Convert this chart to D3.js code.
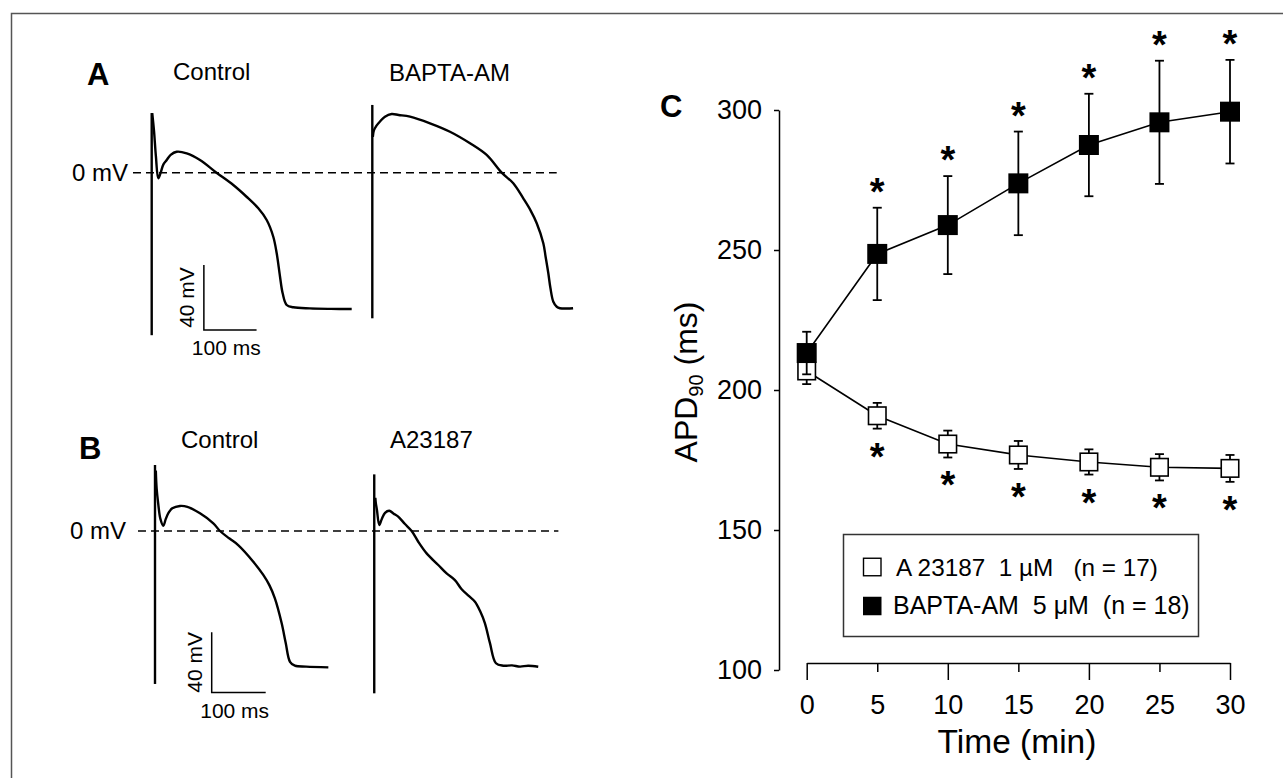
<!DOCTYPE html>
<html><head><meta charset="utf-8">
<script src="https://cdn.jsdelivr.net/npm/d3@7"></script>
<style>
body{margin:0;background:#fff}
svg{display:block}
text{font-family:"Liberation Sans",Arial,Helvetica,sans-serif;fill:#000}
</style>
</head><body>
<svg id="c" width="1283" height="778"></svg>
<script>
// ---------- Panel C data ----------
const times = [0, 5, 10, 15, 20, 25, 30];
const baptaMean = [213.2, 248.6, 258.9, 273.8, 287.5, 295.6, 299.4];
const baptaSem  = [7.6, 16.5, 17.5, 18.5, 18.3, 22.0, 18.5];
const baptaSig  = [false, true, true, true, true, true, true];
const a23Mean = [206.8, 190.8, 180.7, 176.8, 174.3, 172.4, 172.0];
const a23Sem  = [4.7, 4.6, 4.8, 5.0, 4.5, 4.7, 4.8];
const a23Sig  = [false, true, true, true, true, true, true];
const yTicks = [100, 150, 200, 250, 300];
const xTicks = [0, 5, 10, 15, 20, 25, 30];
const xMajor = [0, 10, 20, 30];
const legendLabels = ["A 23187  1 \u00B5M   (n = 17)", "BAPTA-AM  5 \u03BCM  (n = 18)"];

// ---------- Panel A / B traces: [time ms, membrane potential mV] ----------
const controlA_artifact = [[0, -100], [0, 36.7]];
const controlA = [[1, 36.7], [4.3, 26], [8, 10], [12.5, -3.4], [17, 0], [22, 5], [28.5, 7.8], [36, 11],
  [47.4, 12.9], [66.4, 11.9], [91.6, 7.8], [123, 0], [154.8, -7.6], [180, -14.8], [202.3, -21.9],
  [218.2, -29.1], [230.7, -39.4], [237.2, -49.6], [243.5, -64], [248.5, -74.2], [256.2, -81.4],
  [268.7, -82.8], [300, -83.5], [340, -83.8], [379.5, -83.9]];
const baptaA_artifact = [[0, -89.6], [0, 41.7]];
const baptaA = [[1, 22], [3, 26], [8, 29], [14.6, 31.5], [24, 34.5], [36.8, 36.1], [50, 35.5], [71.5, 34.5],
  [109.5, 30.4], [147.4, 25.2], [185.4, 18.1], [217, 10.9], [245.5, 0], [267.5, -6.5], [286.5, -15.8],
  [300, -23], [312, -31.1], [324.5, -43.4], [329, -52], [334, -61.9], [338, -71], [343.5, -79.4],
  [350, -82.5], [356, -83.4], [370, -83.6], [381, -83.4]];
const controlB_artifact = [[0, -101.3], [0, 43.7]];
const controlB = [[1.5, 40], [3, 28.3], [6, 18], [10, 8], [15.4, 3.5], [20, 8], [25, 12], [32, 15],
  [46.3, 16.6], [60, 16], [83.3, 11.7], [108, 5.1], [120.4, 0], [138, -5], [154, -9.3], [182, -20.3],
  [200.5, -29.1], [212, -36], [222, -44.6], [234.6, -61.1], [242, -74], [250, -86.6], [259, -89.2],
  [280, -89.8], [321, -90.3]];
const a23B_artifact = [[0, -107.5], [0, 37.5]];
const a23B = [[2, 22], [3, 18.3], [5, 14], [9.3, 4], [14, 8], [20, 12], [27.8, 13.4], [36, 11.5],
  [44.4, 9.5], [56.9, 4.6], [69.3, 0], [81.5, -7.1], [97, -14.8], [118.5, -22.5], [134, -28.1],
  [149.4, -32.5], [161.9, -38.6], [175, -43], [186.5, -46.8], [196, -53], [205, -61.1], [214.3, -74.3],
  [225.4, -87.6], [239, -89.2], [255, -89], [270, -89.8], [285, -89.2], [303.7, -89.9]];
const offsetA = 418.6;   // ms between the two sweeps in panel A
const offsetB = 406;     // ms between the two sweeps in panel B
const zeroLineA = [-35.5, 768.5];
const zeroLineB = [-31.5, 747];
const scaleBarA = {t: 99, v: -96.8, dt: 100, dv: 40};
const scaleBarB = {t: 105, v: -107, dt: 100, dv: 40};

const svg = d3.select("#c");

// outer frame
svg.append("rect").attr("x", 11.5).attr("y", 13.5).attr("width", 1300).attr("height", 800)
  .attr("fill", "none").attr("stroke", "#555").attr("stroke-width", 1.5);

// ---------- trace panels ----------
function tracePanel(opt) {
  const x = d3.scaleLinear().domain([0, 100]).range(opt.xr);
  const y = d3.scaleLinear().domain([0, 40]).range(opt.yr);
  const g = svg.append("g");
  g.append("line").attr("x1", x(opt.zero[0])).attr("x2", x(opt.zero[1]))
    .attr("y1", y(0)).attr("y2", y(0))
    .attr("stroke", "#000").attr("stroke-width", 1.6).attr("stroke-dasharray", "8,5");
  const lin = d3.line().x(d => x(d[0])).y(d => y(d[1]));
  const crv = d3.line().x(d => x(d[0])).y(d => y(d[1])).curve(d3.curveCatmullRom.alpha(0.5));
  opt.sweeps.forEach(s => {
    const sh = d => [d[0] + s.off, d[1]];
    g.append("path").attr("d", lin(s.art.map(sh))).attr("fill", "none")
      .attr("stroke", "#000").attr("stroke-width", 2.4);
    g.append("path").attr("d", crv(s.ap.map(sh))).attr("fill", "none")
      .attr("stroke", "#000").attr("stroke-width", 2.4).attr("stroke-linejoin", "round");
  });
  const sb = opt.bar;
  g.append("path").attr("d", lin([[sb.t, sb.v + sb.dv], [sb.t, sb.v], [sb.t + sb.dt, sb.v]]))
    .attr("fill", "none").attr("stroke", "#000").attr("stroke-width", 1.5);
  g.append("text").attr("transform", `translate(${x(sb.t) - 10},${(y(sb.v) + y(sb.v + sb.dv)) / 2}) rotate(-90)`)
    .attr("text-anchor", "middle").attr("font-size", 21).text("40 mV");
  g.append("text").attr("x", x(sb.t + sb.dt / 2) - 4).attr("y", y(sb.v) + 25)
    .attr("text-anchor", "middle").attr("font-size", 21).text("100 ms");
  g.append("text").attr("x", opt.zeroLabelX).attr("y", y(0)).attr("dy", "0.35em")
    .attr("text-anchor", "end").attr("font-size", 24).text("0 mV");
  g.append("text").attr("x", opt.letter[0]).attr("y", opt.letter[1]).attr("font-size", 31)
    .attr("font-weight", "bold").text(opt.letter[2]);
  opt.titles.forEach(t => g.append("text").attr("x", t[0]).attr("y", t[1]).attr("font-size", 24).text(t[2]));
}

tracePanel({
  xr: [151.7, 204.4], yr: [172.7, 107.7], zero: zeroLineA, zeroLabelX: 128,
  sweeps: [{art: controlA_artifact, ap: controlA, off: 0}, {art: baptaA_artifact, ap: baptaA, off: offsetA}],
  bar: scaleBarA, letter: [87, 85, "A"],
  titles: [[173, 80, "Control"], [389, 81, "BAPTA-AM"]]
});
tracePanel({
  xr: [155, 209], yr: [531, 470.6], zero: zeroLineB, zeroLabelX: 126,
  sweeps: [{art: controlB_artifact, ap: controlB, off: 0}, {art: a23B_artifact, ap: a23B, off: offsetB}],
  bar: scaleBarB, letter: [79, 459, "B"],
  titles: [[181, 448, "Control"], [390, 448, "A23187"]]
});

// ---------- Panel C ----------
const x = d3.scaleLinear().domain([0, 30]).range([806.7, 1230]);
const y = d3.scaleLinear().domain([100, 300]).range([670, 110]);
const gc = svg.append("g");

const yAxis = gc.append("g").attr("transform", "translate(779,0)")
  .call(d3.axisLeft(y).tickValues(yTicks).tickSize(5).tickSizeOuter(0).tickPadding(12));
yAxis.selectAll("text").attr("font-size", 27).attr("font-family", "Liberation Sans, Arial, sans-serif").attr("fill", "#000");
yAxis.selectAll("line,path").attr("stroke", "#000").attr("stroke-width", 1.5);

const xAxis = gc.append("g").attr("transform", "translate(0,663)")
  .call(d3.axisBottom(x).tickValues(xTicks).tickSize(17).tickSizeOuter(0).tickPadding(15));
xAxis.selectAll("text").attr("font-size", 27).attr("font-family", "Liberation Sans, Arial, sans-serif").attr("fill", "#000");
xAxis.selectAll("line,path").attr("stroke", "#000").attr("stroke-width", 1.5);
xAxis.selectAll(".tick line").attr("y2", d => xMajor.includes(d) ? 17 : 9);

gc.append("text").attr("x", 1017).attr("y", 753).attr("text-anchor", "middle")
  .attr("font-size", 33.5).text("Time (min)");
const yl = gc.append("text").attr("transform", "translate(697,382) rotate(-90)")
  .attr("text-anchor", "middle").attr("font-size", 32);
yl.append("tspan").text("APD");
yl.append("tspan").attr("font-size", 20).attr("dy", 6).text("90");
yl.append("tspan").attr("dy", -6).text(" (ms)");
gc.append("text").attr("x", 660).attr("y", 117).attr("font-size", 31).attr("font-weight", "bold").text("C");

function series(mean, sem, sig, filled, size, above) {
  const pts = times.map((t, i) => ({t, m: mean[i], s: sem[i], sig: sig[i]}));
  const g = gc.append("g");
  pts.forEach(p => {
    g.append("line").attr("x1", x(p.t)).attr("x2", x(p.t)).attr("y1", y(p.m + p.s)).attr("y2", y(p.m - p.s))
      .attr("stroke", "#000").attr("stroke-width", 1.8);
    [p.m + p.s, p.m - p.s].forEach(v => g.append("line").attr("x1", x(p.t) - 4.5).attr("x2", x(p.t) + 4.5)
      .attr("y1", y(v)).attr("y2", y(v)).attr("stroke", "#000").attr("stroke-width", 1.8));
  });
  g.append("path").attr("d", d3.line().x(p => x(p.t)).y(p => y(p.m))(pts))
    .attr("fill", "none").attr("stroke", "#000").attr("stroke-width", 1.6);
  g.selectAll("rect.m").data(pts).join("rect")
    .attr("x", p => x(p.t) - size / 2).attr("y", p => y(p.m) - size / 2)
    .attr("width", size).attr("height", size)
    .attr("fill", filled ? "#000" : "#fff").attr("stroke", "#000").attr("stroke-width", filled ? 0 : 1.6);
  g.selectAll("text.star").data(pts.filter(p => p.sig)).join("text")
    .attr("x", p => x(p.t)).attr("text-anchor", "middle").attr("font-size", 38).attr("font-weight", "bold")
    .attr("y", p => above ? y(p.m + p.s) - 25 + 22 : y(p.m - p.s) + 19 + 22)
    .text("*");
}
series(a23Mean, a23Sem, a23Sig, false, 17.5, false);
series(baptaMean, baptaSem, baptaSig, true, 20, true);

// legend
const lg = gc.append("g");
lg.append("rect").attr("x", 843.5).attr("y", 534.5).attr("width", 355).attr("height", 102)
  .attr("fill", "#fff").attr("stroke", "#333").attr("stroke-width", 1.5);
legendLabels.forEach((lab, i) => {
  const cy = 567 + i * 38.5;
  lg.append("rect").attr("x", 863.5 - (i ? 0.5 : 0)).attr("y", cy - 8.75).attr("width", i ? 18.5 : 17.5).attr("height", i ? 18.5 : 17.5)
    .attr("fill", i ? "#000" : "#fff").attr("stroke", "#000").attr("stroke-width", i ? 0 : 1.4);
  lg.append("text").attr("x", i ? 893 : 896).attr("y", cy + 8.5).attr("font-size", i ? 25 : 24.3)
    .style("white-space", "pre").text(lab);
});
</script>
</body></html>
